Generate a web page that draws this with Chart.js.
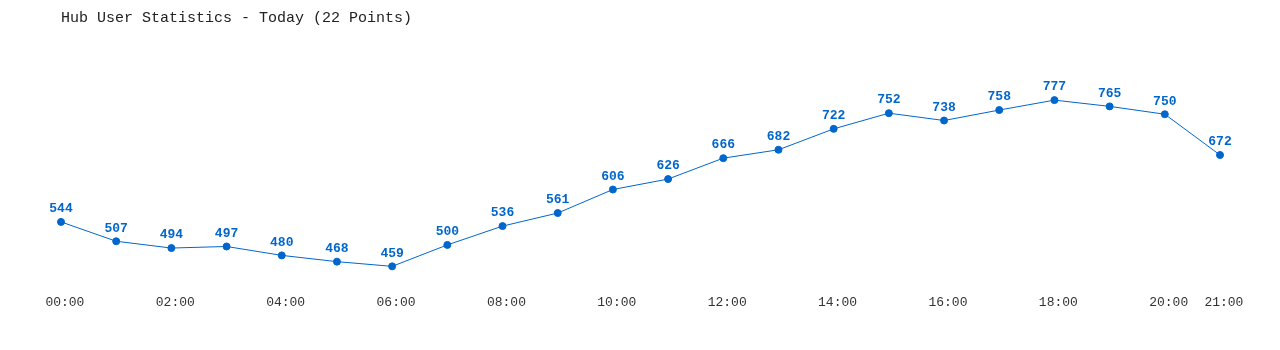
<!DOCTYPE html>
<html>
<head>
<meta charset="utf-8">
<script src="https://cdn.jsdelivr.net/npm/chart.js@4/dist/chart.umd.min.js"></script>
<style>
    html, body { margin: 0; padding: 0; background: #ffffff; }
    #wrap { width: 1280px; height: 350px; }
</style>
</head>
<body>
<div id="wrap"><canvas id="hubChart" width="1280" height="350"></canvas></div>
<script>
// --- Chart data ---
const hours = ["00:00", "01:00", "02:00", "03:00", "04:00", "05:00", "06:00", "07:00",
    "08:00", "09:00", "10:00", "11:00", "12:00", "13:00", "14:00", "15:00",
    "16:00", "17:00", "18:00", "19:00", "20:00", "21:00"];
const userCounts = [544, 507, 494, 497, 480, 468, 459, 500, 536, 561, 606,
    626, 666, 682, 722, 752, 738, 758, 777, 765, 750, 672];
const chartTitle = "Hub User Statistics - Today (22 Points)";

const BLUE = "#0066cc";
const MONO = "'Liberation Mono', 'DejaVu Sans Mono', monospace";

// Draw the value above each point
const valueLabels = {
    id: "valueLabels",
    afterDatasetsDraw(chart) {
        const ctx = chart.ctx;
        const meta = chart.getDatasetMeta(0);
        ctx.save();
        ctx.font = "bold 13px " + MONO;
        ctx.fillStyle = BLUE;
        ctx.textAlign = "center";
        ctx.textBaseline = "middle";
        meta.data.forEach((pt, i) => {
            ctx.fillText(String(userCounts[i]), pt.x, pt.y - 13);
        });
        ctx.restore();
    }
};

const ctx = document.getElementById("hubChart").getContext("2d");
new Chart(ctx, {
    type: "line",
    data: {
        labels: hours,
        datasets: [{
            data: userCounts,
            borderColor: BLUE,
            borderWidth: 1,
            backgroundColor: BLUE,
            pointBackgroundColor: BLUE,
            pointBorderColor: BLUE,
            pointRadius: 3.5,
            tension: 0,
            fill: false
        }]
    },
    options: {
        responsive: false,
        animation: false,
        layout: {
            padding: { left: 61, right: 60, top: 0, bottom: 36 }
        },
        plugins: {
            legend: { display: false },
            tooltip: { enabled: false },
            title: {
                display: true,
                text: chartTitle,
                align: "start",
                color: "#222222",
                font: { family: MONO, size: 15, weight: "normal", lineHeight: 1.2 },
                padding: { top: 9, bottom: 13 }
            }
        },
        scales: {
            x: {
                offset: false,
                grid: { display: false, drawTicks: false },
                border: { display: false },
                ticks: {
                    autoSkip: false,
                    maxRotation: 0,
                    padding: 4,
                    color: "#333333",
                    font: { family: MONO, size: 13 },
                    callback: function (value, index) {
                        // leading space nudges the label a little right of its point
                        if (index % 2 === 0 || index === hours.length - 1) {
                            return " " + hours[index];
                        }
                        return "";
                    }
                }
            },
            y: {
                display: false,
                min: 413,
                max: 892
            }
        }
    },
    plugins: [valueLabels]
});
</script>
</body>
</html>
